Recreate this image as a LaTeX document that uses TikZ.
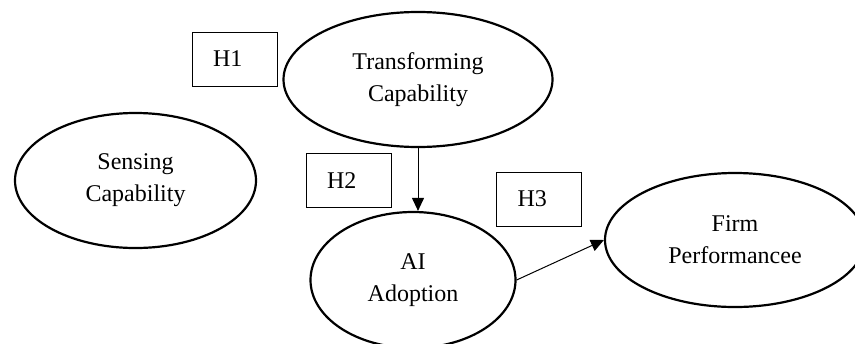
\documentclass[tikz,border=0pt]{standalone}
\usepackage{fontspec}
\setmainfont{Liberation Serif}
\usetikzlibrary{arrows.meta, shapes.geometric}

\begin{document}
\begin{tikzpicture}[
    x=0.5pt, y=-0.5pt,
    every node/.style={font=\fontsize{12}{16}\selectfont},
    construct/.style={draw, ellipse, line width=1.1pt, align=center, inner sep=0pt},
    hyp/.style={draw, line width=0.5pt, inner xsep=10.5pt, text width=21.5pt, align=left, minimum height=27pt},
    link/.style={-{Triangle[length=6.5pt, width=6pt]}, line width=0.5pt}
]
\clip (0,0) rectangle (855,343);

\node[construct, minimum width=120.5pt, minimum height=67.5pt] (s) at (135.5,180.5) {Sensing\\Capability};
\node[construct, minimum width=134.5pt, minimum height=67.5pt] (t) at (418,79.5) {Transforming\\Capability};
\node[construct, minimum width=102.5pt, minimum height=68pt] (a) at (413,280) {AI\\Adoption};
\node[construct, minimum width=130pt, minimum height=67pt] (f) at (735,240) {Firm\\Performancee};

\node[hyp] (h1) at (234.5,59) {H1};
\node[hyp] (h2) at (348.5,180.5) {H2};
\node[hyp] (h3) at (539,199) {H3};

\draw[link] (t.south) -- (t.south |- a.north);
\draw[link] (a.east) -- (f.west);
\end{tikzpicture}
\end{document}
